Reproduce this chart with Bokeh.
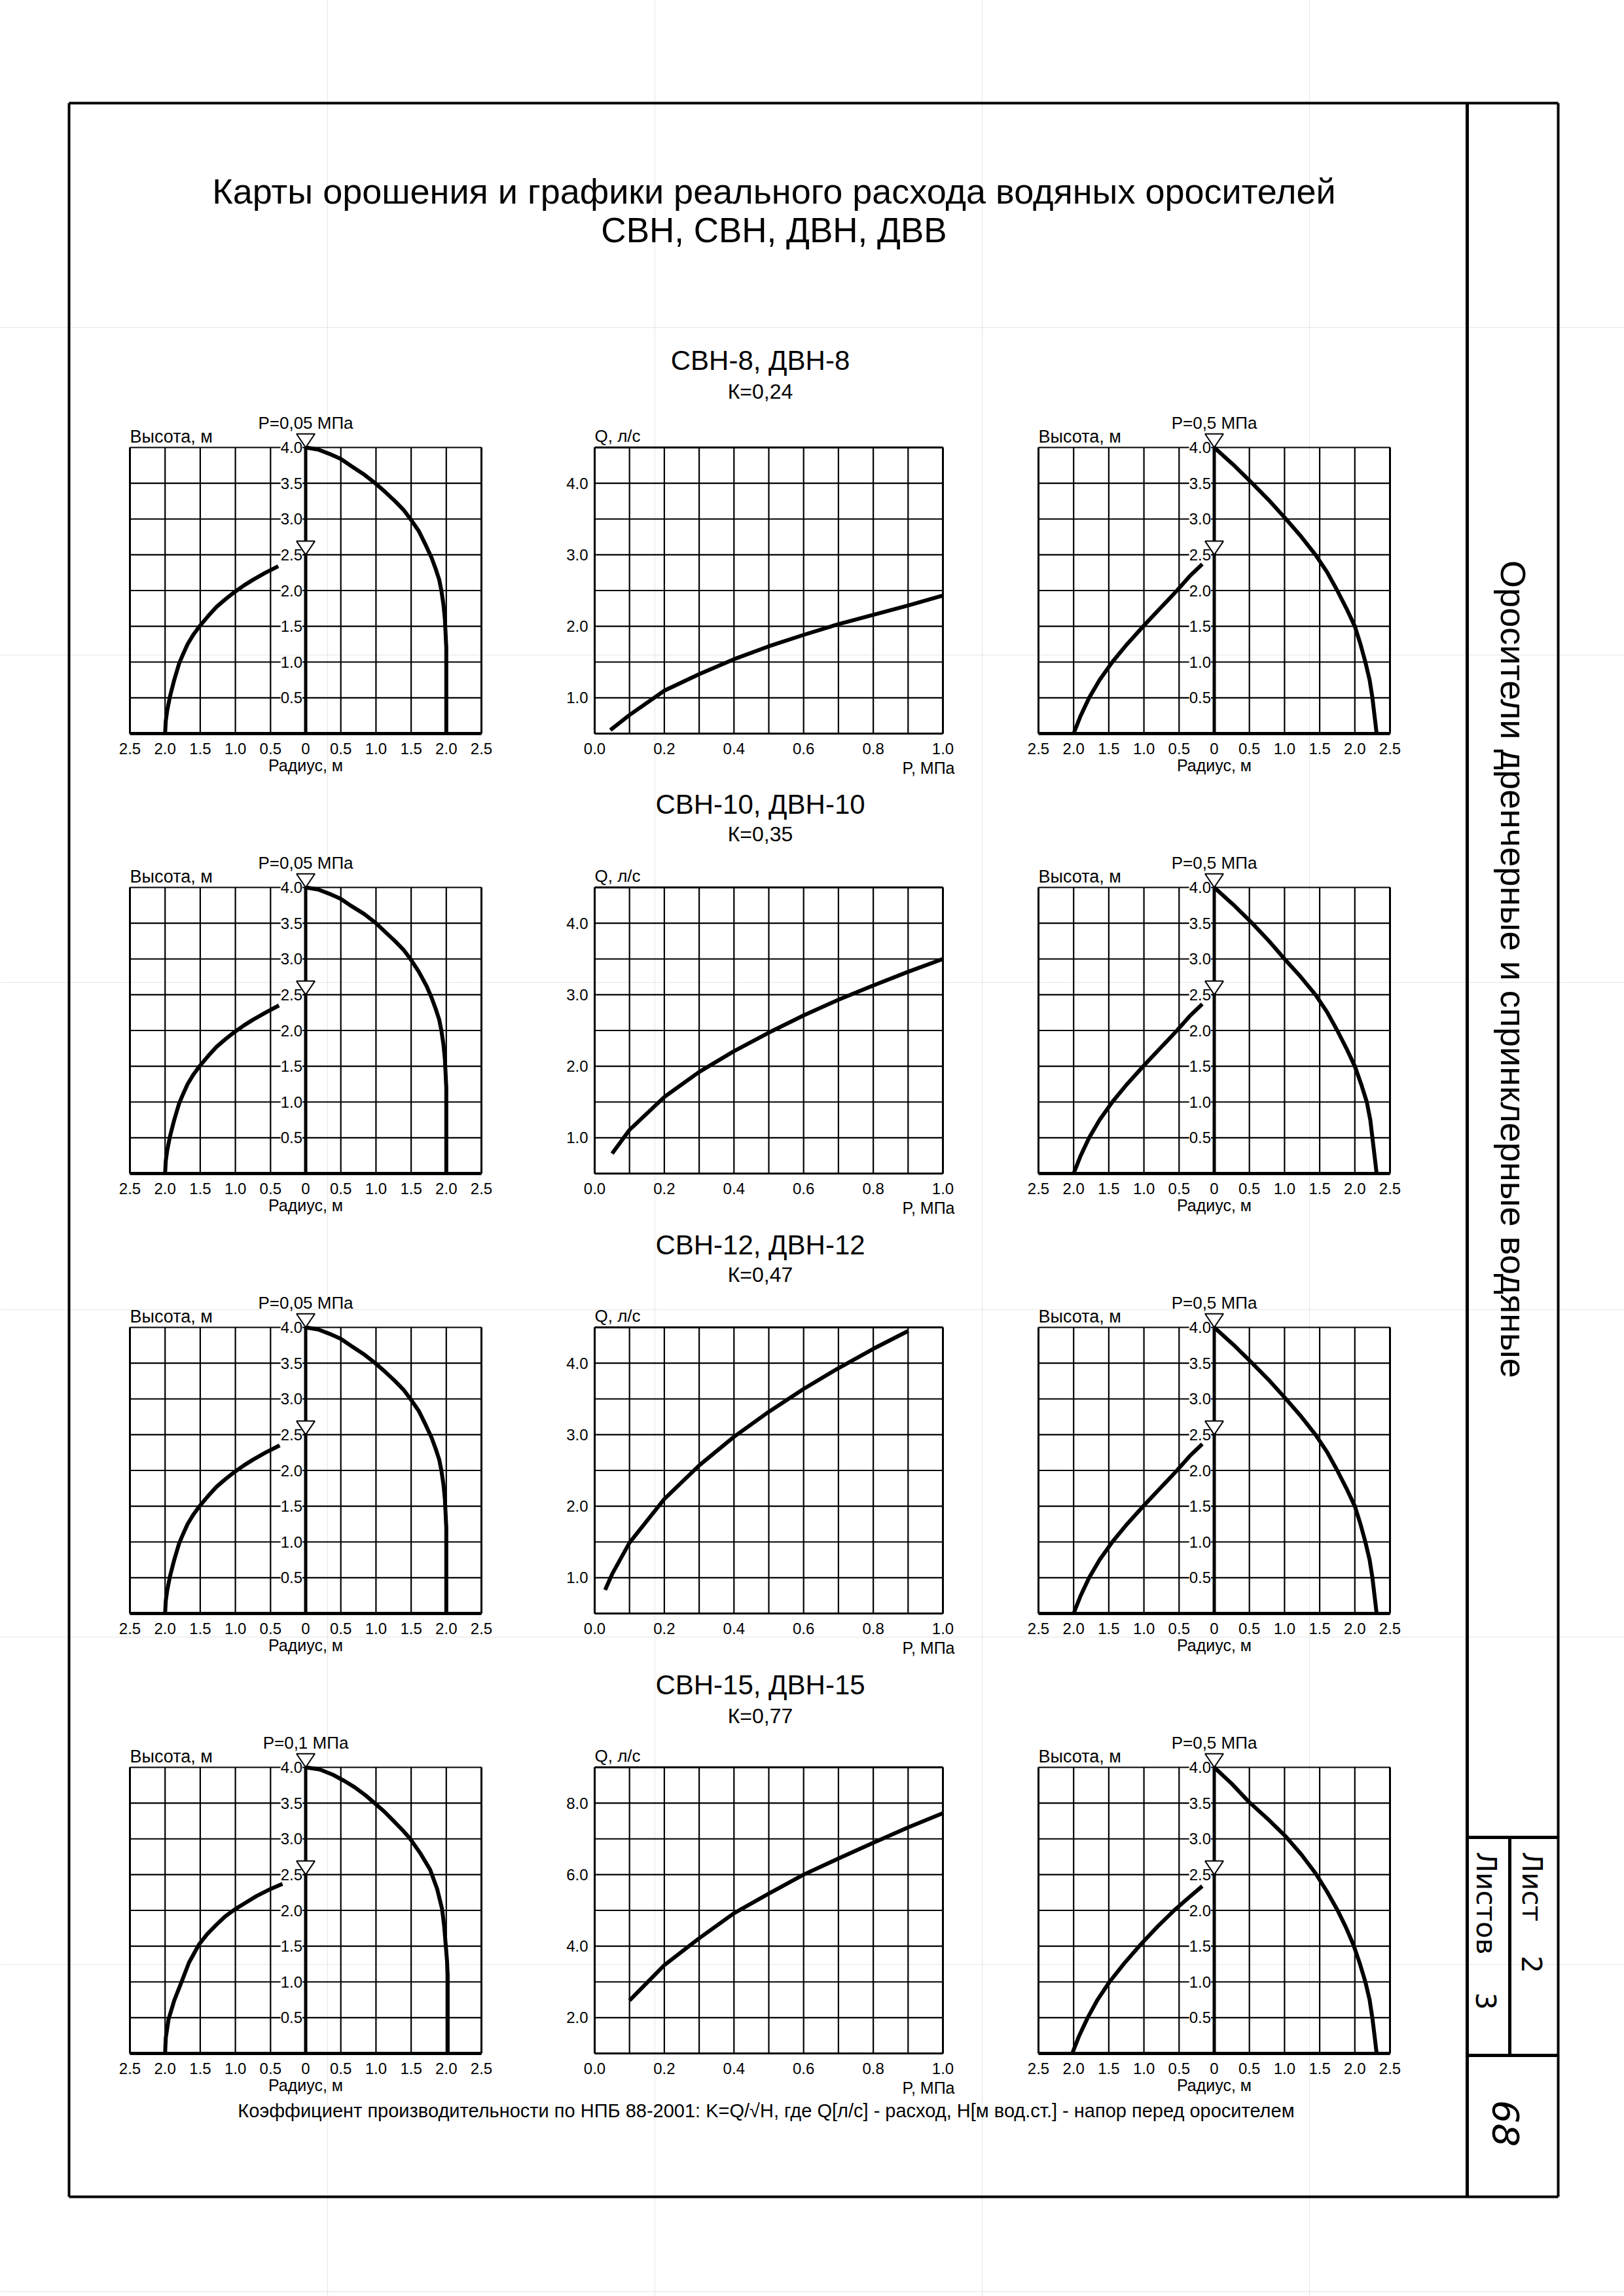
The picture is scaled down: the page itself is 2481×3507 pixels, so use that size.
import math
from bokeh.plotting import figure
from bokeh.models import Range1d
from bokeh.embed import file_html
from bokeh.resources import INLINE
from bokeh.core.properties import value

# ------------------------------------------------------------------ data
TITLE_1 = "Карты орошения и графики реального расхода водяных оросителей"
TITLE_2 = "СВН, СВН, ДВН, ДВВ"
ROW_TITLES = ["СВН-8, ДВН-8", "СВН-10, ДВН-10", "СВН-12, ДВН-12", "СВН-15, ДВН-15"]
K_LABELS = ["К=0,24", "К=0,35", "К=0,47", "К=0,77"]
LOW_P_LABELS = ["P=0,05 МПа", "P=0,05 МПа", "P=0,05 МПа", "P=0,1 МПа"]
HIGH_P_LABELS = ["P=0,5 МПа", "P=0,5 МПа", "P=0,5 МПа", "P=0,5 МПа"]
SIDE_TEXT = "Оросители дренчерные и спринклерные водяные"
FOOTNOTE = ("Коэффициент производительности по  НПБ 88-2001: K=Q/√H, где Q[л/с] - расход, "
            "H[м вод.ст.] - напор перед оросителем")

# irrigation-map axes
RADIUS_TICKS = [-2.5, -2.0, -1.5, -1.0, -0.5, 0.0, 0.5, 1.0, 1.5, 2.0, 2.5]
RADIUS_LABELS = ["2.5", "2.0", "1.5", "1.0", "0.5", "0", "0.5", "1.0", "1.5", "2.0", "2.5"]
HEIGHT_GRID = [0.5, 1.0, 1.5, 2.0, 2.5, 3.0, 3.5, 4.0]
HEIGHT_LABELS = ["0.5", "1.0", "1.5", "2.0", "2.5", "3.0", "3.5", "4.0"]
NOZZLE_MARKS = [4.0, 2.5]

# flow-chart axes
P_GRID = [0.0, 0.1, 0.2, 0.3, 0.4, 0.5, 0.6, 0.7, 0.8, 0.9, 1.0]
P_TICKS = [0.0, 0.2, 0.4, 0.6, 0.8, 1.0]
P_LABELS = ["0.0", "0.2", "0.4", "0.6", "0.8", "1.0"]
Q_RANGE_SMALL = [0.5, 4.5]
Q_GRID_SMALL = [1.0, 1.5, 2.0, 2.5, 3.0, 3.5, 4.0]
Q_TICKS_SMALL = [1.0, 2.0, 3.0, 4.0]
Q_LABELS_SMALL = ["1.0", "2.0", "3.0", "4.0"]
Q_RANGE_LARGE = [1.0, 9.0]
Q_GRID_LARGE = [2.0, 3.0, 4.0, 5.0, 6.0, 7.0, 8.0]
Q_TICKS_LARGE = [2.0, 4.0, 6.0, 8.0]
Q_LABELS_LARGE = ["2.0", "4.0", "6.0", "8.0"]

# flow curves Q(P)
FLOW_P_8 = [0.045, 0.1, 0.2, 0.3, 0.4, 0.5, 0.6, 0.7, 0.8, 0.9, 1.0]
FLOW_Q_8 = [0.55, 0.76, 1.10, 1.33, 1.54, 1.72, 1.88, 2.03, 2.16, 2.29, 2.43]
FLOW_P_10 = [0.05, 0.1, 0.2, 0.3, 0.4, 0.5, 0.6, 0.7, 0.8, 0.9, 1.0]
FLOW_Q_10 = [0.78, 1.11, 1.57, 1.92, 2.21, 2.47, 2.71, 2.93, 3.13, 3.32, 3.50]
FLOW_P_12 = [0.03, 0.05, 0.1, 0.2, 0.3, 0.4, 0.5, 0.6, 0.7, 0.8, 0.9]
FLOW_Q_12 = [0.83, 1.05, 1.49, 2.10, 2.57, 2.97, 3.32, 3.64, 3.93, 4.20, 4.45]
FLOW_P_15 = [0.1, 0.2, 0.3, 0.4, 0.5, 0.6, 0.7, 0.8, 0.9, 1.0]
FLOW_Q_15 = [2.48, 3.47, 4.22, 4.92, 5.47, 6.00, 6.45, 6.89, 7.32, 7.72]

# irrigation maps, low pressure (left column): outer (right side) and inner (left side) jets
LOW_OUTER_X_8 = [0.0, 0.18, 0.34, 0.50, 0.65, 0.82, 0.99, 1.14, 1.27, 1.39, 1.49, 1.61,
                 1.71, 1.79, 1.85, 1.90, 1.93, 1.96, 1.98, 1.99, 2.0, 2.0]
LOW_OUTER_Y_8 = [4.0, 3.97, 3.91, 3.84, 3.74, 3.63, 3.50, 3.37, 3.25, 3.13, 3.0, 2.83,
                 2.63, 2.46, 2.30, 2.15, 2.0, 1.80, 1.60, 1.40, 1.20, 0.0]
LOW_INNER_X_8 = [-0.39, -0.57, -0.75, -0.88, -1.01, -1.14, -1.27, -1.39, -1.51, -1.60,
                 -1.68, -1.74, -1.80, -1.87, -1.93, -1.97, -1.99, -2.0]
LOW_INNER_Y_8 = [2.34, 2.25, 2.15, 2.07, 1.98, 1.88, 1.77, 1.64, 1.50, 1.38,
                 1.25, 1.12, 0.98, 0.75, 0.52, 0.32, 0.18, 0.0]
LOW_OUTER_X_10 = [0.0, 0.18, 0.34, 0.50, 0.65, 0.83, 1.0, 1.14, 1.27, 1.39, 1.49, 1.61,
                  1.72, 1.79, 1.85, 1.90, 1.93, 1.96, 1.98, 1.99, 2.0, 2.0]
LOW_OUTER_Y_10 = [4.0, 3.97, 3.91, 3.84, 3.74, 3.63, 3.50, 3.37, 3.25, 3.13, 3.0, 2.82,
                  2.62, 2.46, 2.30, 2.15, 2.0, 1.80, 1.60, 1.40, 1.20, 0.0]
LOW_INNER_X_10 = [-0.38, -0.57, -0.75, -0.88, -1.01, -1.14, -1.27, -1.39, -1.51, -1.60,
                  -1.68, -1.74, -1.80, -1.87, -1.93, -1.97, -1.99, -2.0]
LOW_INNER_Y_10 = [2.35, 2.25, 2.15, 2.07, 1.98, 1.88, 1.77, 1.64, 1.50, 1.38,
                  1.25, 1.12, 0.98, 0.75, 0.52, 0.32, 0.18, 0.0]
LOW_OUTER_X_12 = [0.0, 0.18, 0.34, 0.50, 0.65, 0.82, 0.99, 1.14, 1.27, 1.39, 1.49, 1.61,
                  1.71, 1.79, 1.85, 1.90, 1.93, 1.96, 1.98, 1.99, 2.0, 2.0]
LOW_OUTER_Y_12 = [4.0, 3.97, 3.91, 3.84, 3.74, 3.63, 3.50, 3.37, 3.25, 3.13, 3.0, 2.83,
                  2.63, 2.46, 2.30, 2.15, 2.0, 1.80, 1.60, 1.40, 1.20, 0.0]
LOW_INNER_X_12 = [-0.37, -0.57, -0.75, -0.88, -1.01, -1.14, -1.27, -1.39, -1.51, -1.60,
                  -1.68, -1.74, -1.80, -1.87, -1.93, -1.97, -1.99, -2.0]
LOW_INNER_Y_12 = [2.35, 2.25, 2.15, 2.07, 1.98, 1.88, 1.77, 1.64, 1.50, 1.38,
                  1.25, 1.12, 0.98, 0.75, 0.52, 0.32, 0.18, 0.0]
LOW_OUTER_X_15 = [0.0, 0.20, 0.38, 0.55, 0.70, 0.85, 0.98, 1.12, 1.25, 1.37, 1.48, 1.63,
                  1.77, 1.87, 1.94, 1.97, 1.99, 2.01, 2.02, 2.02]
LOW_OUTER_Y_15 = [4.0, 3.97, 3.90, 3.81, 3.72, 3.61, 3.50, 3.38, 3.25, 3.13, 3.01, 2.80,
                  2.57, 2.30, 2.02, 1.78, 1.54, 1.30, 1.10, 0.0]
LOW_INNER_X_15 = [-0.33, -0.52, -0.70, -0.85, -1.0, -1.14, -1.27, -1.40, -1.52, -1.66,
                  -1.77, -1.87, -1.95, -1.99, -2.0]
LOW_INNER_Y_15 = [2.37, 2.29, 2.20, 2.11, 2.02, 1.92, 1.80, 1.67, 1.52, 1.27,
                  0.99, 0.74, 0.48, 0.22, 0.0]

# irrigation maps, P = 0.5 MPa (right column)
HIGH_OUTER_X_8 = [0.0, 0.27, 0.54, 0.79, 1.02, 1.24, 1.44, 1.61, 1.75, 1.88, 2.0, 2.08,
                  2.15, 2.21, 2.25, 2.28, 2.31]
HIGH_OUTER_Y_8 = [4.0, 3.76, 3.5, 3.25, 3.0, 2.75, 2.5, 2.25, 2.0, 1.75, 1.5, 1.25,
                  1.0, 0.75, 0.5, 0.25, 0.0]
HIGH_INNER_X_8 = [-0.17, -0.35, -0.53, -0.77, -1.01, -1.24, -1.45, -1.63, -1.78, -1.90, -2.0]
HIGH_INNER_Y_8 = [2.37, 2.20, 2.0, 1.75, 1.5, 1.25, 1.0, 0.75, 0.5, 0.25, 0.0]
HIGH_OUTER_X_10 = [0.0, 0.27, 0.54, 0.78, 1.0, 1.23, 1.44, 1.61, 1.75, 1.88, 2.0, 2.09,
                   2.17, 2.22, 2.25, 2.28, 2.31]
HIGH_OUTER_Y_10 = [4.0, 3.76, 3.5, 3.25, 3.0, 2.75, 2.5, 2.25, 2.0, 1.75, 1.5, 1.25,
                   1.0, 0.75, 0.5, 0.25, 0.0]
HIGH_INNER_X_10 = [-0.17, -0.35, -0.53, -0.77, -1.01, -1.24, -1.45, -1.63, -1.78, -1.90, -2.0]
HIGH_INNER_Y_10 = [2.37, 2.20, 2.0, 1.75, 1.5, 1.25, 1.0, 0.75, 0.5, 0.25, 0.0]
HIGH_OUTER_X_12 = [0.0, 0.27, 0.54, 0.79, 1.02, 1.24, 1.44, 1.61, 1.75, 1.88, 2.0, 2.08,
                   2.15, 2.21, 2.25, 2.28, 2.31]
HIGH_OUTER_Y_12 = [4.0, 3.76, 3.5, 3.25, 3.0, 2.75, 2.5, 2.25, 2.0, 1.75, 1.5, 1.25,
                   1.0, 0.75, 0.5, 0.25, 0.0]
HIGH_INNER_X_12 = [-0.17, -0.35, -0.53, -0.77, -1.01, -1.24, -1.45, -1.63, -1.78, -1.90, -2.0]
HIGH_INNER_Y_12 = [2.37, 2.20, 2.0, 1.75, 1.5, 1.25, 1.0, 0.75, 0.5, 0.25, 0.0]
HIGH_OUTER_X_15 = [0.0, 0.25, 0.48, 0.76, 1.02, 1.24, 1.44, 1.60, 1.75, 1.87, 1.98, 2.07,
                   2.15, 2.21, 2.25, 2.28, 2.31]
HIGH_OUTER_Y_15 = [4.0, 3.77, 3.53, 3.28, 3.03, 2.78, 2.52, 2.27, 2.01, 1.77, 1.52, 1.26,
                   1.0, 0.75, 0.49, 0.25, 0.0]
HIGH_INNER_X_15 = [-0.17, -0.36, -0.56, -0.81, -1.05, -1.28, -1.49, -1.66, -1.80, -1.92, -2.02]
HIGH_INNER_Y_15 = [2.34, 2.18, 2.01, 1.77, 1.52, 1.26, 1.0, 0.75, 0.5, 0.25, 0.0]

LOW_MAPS = [(LOW_OUTER_X_8, LOW_OUTER_Y_8, LOW_INNER_X_8, LOW_INNER_Y_8),
            (LOW_OUTER_X_10, LOW_OUTER_Y_10, LOW_INNER_X_10, LOW_INNER_Y_10),
            (LOW_OUTER_X_12, LOW_OUTER_Y_12, LOW_INNER_X_12, LOW_INNER_Y_12),
            (LOW_OUTER_X_15, LOW_OUTER_Y_15, LOW_INNER_X_15, LOW_INNER_Y_15)]
HIGH_MAPS = [(HIGH_OUTER_X_8, HIGH_OUTER_Y_8, HIGH_INNER_X_8, HIGH_INNER_Y_8),
             (HIGH_OUTER_X_10, HIGH_OUTER_Y_10, HIGH_INNER_X_10, HIGH_INNER_Y_10),
             (HIGH_OUTER_X_12, HIGH_OUTER_Y_12, HIGH_INNER_X_12, HIGH_INNER_Y_12),
             (HIGH_OUTER_X_15, HIGH_OUTER_Y_15, HIGH_INNER_X_15, HIGH_INNER_Y_15)]
FLOWS = [(FLOW_P_8, FLOW_Q_8, "small"), (FLOW_P_10, FLOW_Q_10, "small"),
         (FLOW_P_12, FLOW_Q_12, "small"), (FLOW_P_15, FLOW_Q_15, "large")]

# ------------------------------------------------------------------ layout / style
PAGE_W, PAGE_H = 2481, 3507
FONT = value("Liberation Sans")
ROW_TOPS = [683, 1355, 2027, 2699]
ROW_TITLE_Y = [550, 1228, 1901, 2573]
ROW_K_Y = [597, 1273, 1946, 2620]
CH = 437
MAP_W = 537
FLOW_W = 532
COL_LEFT = [198, 908, 1586]

p = figure(width=PAGE_W, height=PAGE_H, x_range=Range1d(0, PAGE_W), y_range=Range1d(PAGE_H, 0),
           output_backend="svg", toolbar_location=None, min_border=0,
           x_axis_location=None, y_axis_location=None)
p.outline_line_color = None
p.background_fill_color = "white"
p.border_fill_color = "white"


def txt(g, x, y, t, size, align="center", baseline="middle", xo=0, yo=0, angle=0.0,
        font=FONT, style="normal", bg=None):
    kw = {}
    if bg is not None:
        kw["background_fill_color"] = bg
    g.text(x=x, y=y, text=t, text_font=font, text_font_size=f"{size}px",
           text_align=align, text_baseline=baseline, x_offset=xo, y_offset=yo,
           angle=angle, text_color="black", text_font_style=style, **kw)


def map_chart(left, top, outer_x, outer_y, inner_x, inner_y, p_label):
    s = p.subplot(x_source=Range1d(-2.5, 2.5), y_source=Range1d(0, 4),
                  x_target=Range1d(left, left + MAP_W), y_target=Range1d(top + CH, top))
    n = len(RADIUS_TICKS)
    s.segment(x0=RADIUS_TICKS, y0=[0] * n, x1=RADIUS_TICKS, y1=[4] * n,
              line_color="black", line_width=2.2)
    m = len(HEIGHT_GRID)
    s.segment(x0=[-2.5] * m, y0=HEIGHT_GRID, x1=[2.5] * m, y1=HEIGHT_GRID,
              line_color="black", line_width=2.2)
    s.segment(x0=[-2.5, 2.5], y0=[0, 0], x1=[-2.5, 2.5], y1=[4, 4],
              line_color="black", line_width=3)
    # height labels on the central axis
    txt(s, [0] * m, HEIGHT_GRID, HEIGHT_LABELS, 24, align="right", xo=-5, bg="white")
    s.line([0, 0], [0, 4], line_color="black", line_width=5)
    s.line([-2.5, 2.5], [0, 0], line_color="black", line_width=5)
    s.line(outer_x, outer_y, line_color="black", line_width=6, line_join="round")
    s.line(inner_x, inner_y, line_color="black", line_width=6, line_join="round")
    hw, hh = 0.13, 0.19
    s.patches(xs=[[-hw, hw, 0] for _ in NOZZLE_MARKS],
              ys=[[a + hh, a + hh, a] for a in NOZZLE_MARKS],
              fill_color="white", line_color="black", line_width=2)
    txt(s, RADIUS_TICKS, [0] * n, RADIUS_LABELS, 24, yo=23)
    txt(s, [-2.5], [4], ["Высота, м"], 27, align="left", yo=-17)
    txt(s, [0], [4], [p_label], 26, yo=-38)
    txt(s, [0], [0], ["Радиус, м"], 25, yo=48)


def flow_chart(left, top, P, Q, kind):
    if kind == "small":
        yr, yg, yt, yl = Q_RANGE_SMALL, Q_GRID_SMALL, Q_TICKS_SMALL, Q_LABELS_SMALL
    else:
        yr, yg, yt, yl = Q_RANGE_LARGE, Q_GRID_LARGE, Q_TICKS_LARGE, Q_LABELS_LARGE
    s = p.subplot(x_source=Range1d(0, 1), y_source=Range1d(yr[0], yr[1]),
                  x_target=Range1d(left, left + FLOW_W), y_target=Range1d(top + CH, top))
    n = len(P_GRID)
    s.segment(x0=P_GRID, y0=[yr[0]] * n, x1=P_GRID, y1=[yr[1]] * n,
              line_color="black", line_width=2.2)
    m = len(yg)
    s.segment(x0=[0] * m, y0=yg, x1=[1] * m, y1=yg, line_color="black", line_width=2.2)
    s.segment(x0=[0, 0], y0=[yr[0], yr[1]], x1=[1, 1], y1=[yr[0], yr[1]],
              line_color="black", line_width=3)
    s.segment(x0=[0, 1], y0=[yr[0], yr[0]], x1=[0, 1], y1=[yr[1], yr[1]],
              line_color="black", line_width=3)
    s.line(P, Q, line_color="black", line_width=6, line_join="round")
    txt(s, [0] * len(yt), yt, yl, 24, align="right", xo=-10)
    txt(s, P_TICKS, [yr[0]] * len(P_TICKS), P_LABELS, 24, yo=23)
    txt(s, [0], [yr[1]], ["Q, л/с"], 26, align="left", yo=-18)
    txt(s, [1], [yr[0]], ["P, МПа"], 25, align="right", xo=18, yo=52)


for i in range(4):
    top = ROW_TOPS[i]
    ox, oy, ix, iy = LOW_MAPS[i]
    map_chart(COL_LEFT[0], top, ox, oy, ix, iy, LOW_P_LABELS[i])
    fp, fq, kind = FLOWS[i]
    flow_chart(COL_LEFT[1], top, fp, fq, kind)
    ox, oy, ix, iy = HIGH_MAPS[i]
    map_chart(COL_LEFT[2], top, ox, oy, ix, iy, HIGH_P_LABELS[i])
    txt(p, [1161], [ROW_TITLE_Y[i]], [ROW_TITLES[i]], 42)
    txt(p, [1161], [ROW_K_Y[i]], [K_LABELS[i]], 32)

# ------------------------------------------------------------------ sheet decorations
txt(p, [1182], [291], [TITLE_1], 54)
txt(p, [1182], [351], [TITLE_2], 53)
txt(p, [1174], [3223], [FOOTNOTE], 29)

# outer frame and title strip
p.segment(x0=[105, 105, 2380, 105], y0=[157, 3355, 157, 157],
          x1=[2380, 2380, 2380, 105], y1=[157, 3355, 3355, 3355],
          line_color="black", line_width=4)
p.segment(x0=[2241, 2241, 2241, 2306], y0=[157, 2806, 3139, 2806],
          x1=[2241, 2380, 2380, 2306], y1=[3355, 2806, 3139, 3139],
          line_color="black", line_width=5)

rot = -math.pi / 2
txt(p, [2311], [1480], [SIDE_TEXT], 54, angle=rot)
txt(p, [2340], [2828], ["Лист"], 42, align="left", angle=rot, font=value("DejaVu Sans"))
txt(p, [2340], [3000], ["2"], 42, angle=rot, font=value("DejaVu Sans"))
txt(p, [2270], [2828], ["Листов"], 42, align="left", angle=rot, font=value("DejaVu Sans"))
txt(p, [2270], [3056], ["3"], 42, angle=rot, font=value("DejaVu Sans"))
txt(p, [2300], [3243], ["68"], 56, angle=rot, font=value("DejaVu Sans"), style="italic")

open("out.html", "w").write(file_html(p, INLINE))
